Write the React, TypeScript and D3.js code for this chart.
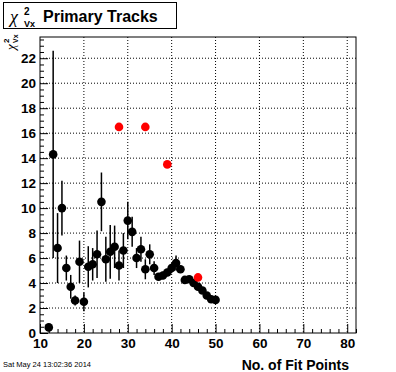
import React, { useEffect, useRef } from "react";
import { select, scaleLinear, axisBottom, axisLeft, range } from "d3";

// profile points (black) : no. of fit points vs chi2 of vertex x
const fitPoints = [12, 13, 14, 15, 16, 17, 18, 19, 20, 21, 22, 23, 24, 25, 26, 27, 28, 29, 30, 31,
  32, 33, 34, 35, 36, 37, 38, 39, 40, 41, 42, 43, 44, 45, 46, 47, 48, 49, 50];
const chi2Values = [0.45, 14.3, 6.8, 10.0, 5.2, 3.7, 2.6, 5.7, 2.5, 5.3, 5.5, 6.3, 10.5, 5.9, 6.5, 6.9, 5.4, 6.6, 9.0, 8.1,
  6.0, 6.7, 5.1, 6.3, 5.2, 4.5, 4.6, 4.85, 5.2, 5.6, 5.1, 4.25, 4.3, 4.0, 3.7, 3.4, 3.0, 2.7, 2.65];
const chi2Errors = [0.3, 8.3, 2.8, 2.2, 1.0, 0.95, 0.4, 1.7, 0.75, 1.65, 1.3, 1.9, 2.35, 1.8, 2.15, 1.7, 1.2, 1.4, 1.5, 1.2,
  0.8, 1.0, 0.8, 0.8, 0.55, 0.3, 0.3, 0.3, 0.4, 0.6, 0.3, 0.2, 0.2, 0.2, 0.2, 0.2, 0.2, 0.2, 0.2];

// second set (red)
const redFitPoints = [28, 34, 39, 46];
const redValues = [16.5, 16.5, 13.5, 4.45];

const xMajorTicks = [10, 20, 30, 40, 50, 60, 70, 80];
const yMajorTicks = [0, 2, 4, 6, 8, 10, 12, 14, 16, 18, 20, 22];

const FONT = "'Liberation Sans', Arial, Helvetica, sans-serif";
const GREEK = "'Liberation Serif', 'DejaVu Serif', serif";

function App() {
  const gRef = useRef();
  const width = 396;
  const height = 372;
  const frame = { left: 40, right: 356, top: 37, bottom: 333 };

  useEffect(() => {
    const g = select(gRef.current);
    g.selectAll("*").remove();

    const x = scaleLinear().domain([10, 82]).range([frame.left, frame.right]);
    const y = scaleLinear().domain([0, 23.7]).range([frame.bottom, frame.top]);

    // grid
    g.append("g")
      .selectAll("line")
      .data(xMajorTicks.slice(1))
      .join("line")
      .attr("x1", d => x(d)).attr("x2", d => x(d))
      .attr("y1", frame.top).attr("y2", frame.bottom)
      .attr("stroke", "#000").attr("stroke-dasharray", "1 2");
    g.append("g")
      .selectAll("line")
      .data(yMajorTicks.slice(1))
      .join("line")
      .attr("y1", d => y(d)).attr("y2", d => y(d))
      .attr("x1", frame.left).attr("x2", frame.right)
      .attr("stroke", "#000").attr("stroke-dasharray", "1 2");

    // frame
    g.append("rect")
      .attr("x", frame.left).attr("y", frame.top)
      .attr("width", frame.right - frame.left).attr("height", frame.bottom - frame.top)
      .attr("fill", "none").attr("stroke", "#000");

    // axes, ticks inside
    const xMinor = range(10, 82.1, 2).filter(v => v % 10 !== 0);
    g.append("g")
      .attr("transform", `translate(0,${frame.bottom})`)
      .call(axisBottom(x).tickValues(xMinor).tickSize(-4).tickFormat(() => ""))
      .call(a => a.select(".domain").remove());
    g.append("g")
      .attr("class", "x-axis")
      .attr("transform", `translate(0,${frame.bottom})`)
      .call(axisBottom(x).tickValues(xMajorTicks).tickSize(-9).tickPadding(5).tickFormat(d => `${d}`))
      .call(a => a.select(".domain").remove());

    const yMinor = range(0, 23.6, 0.5).filter(v => v % 2 !== 0);
    g.append("g")
      .attr("transform", `translate(${frame.left},0)`)
      .call(axisLeft(y).tickValues(yMinor).tickSize(-4).tickFormat(() => ""))
      .call(a => a.select(".domain").remove());
    g.append("g")
      .attr("class", "y-axis")
      .attr("transform", `translate(${frame.left},0)`)
      .call(axisLeft(y).tickValues(yMajorTicks).tickSize(-8).tickPadding(4).tickFormat(d => `${d}`))
      .call(a => a.select(".domain").remove());

    g.selectAll(".tick line").attr("stroke", "#000");
    g.selectAll(".x-axis text, .y-axis text")
      .attr("font-family", FONT).attr("font-weight", "bold").attr("font-size", 13.5).attr("fill", "#000");

    // error bars
    g.append("g")
      .selectAll("line")
      .data(fitPoints)
      .join("line")
      .attr("x1", d => x(d)).attr("x2", d => x(d))
      .attr("y1", (d, i) => y(chi2Values[i] - chi2Errors[i]))
      .attr("y2", (d, i) => y(chi2Values[i] + chi2Errors[i]))
      .attr("stroke", "#000").attr("stroke-width", 1.5);

    g.append("g")
      .selectAll("circle")
      .data(fitPoints)
      .join("circle")
      .attr("cx", d => x(d))
      .attr("cy", (d, i) => y(chi2Values[i]))
      .attr("r", 4.3)
      .attr("fill", "#000");

    g.append("g")
      .selectAll("circle")
      .data(redFitPoints)
      .join("circle")
      .attr("cx", d => x(d))
      .attr("cy", (d, i) => y(redValues[i]))
      .attr("r", 4.3)
      .attr("fill", "#ff0000");
  }, []);

  return (
    <div style={{ position: "absolute", left: 0, top: 0 }}>
      <svg width={width} height={height} style={{ display: "block", background: "#fff" }}>
        <g ref={gRef} />
        {/* title box */}
        <rect x={3.5} y={2.5} width={173} height={26} fill="#fff" stroke="#000" />
        <text x={10} y={23} fontFamily={GREEK} fontStyle="italic" fontSize={18}>χ</text>
        <text x={24} y={15} fontFamily={FONT} fontWeight="bold" fontSize={10}>2</text>
        <text x={24} y={27} fontFamily={FONT} fontWeight="bold" fontSize={9}>Vx</text>
        <text x={43} y={22} fontFamily={FONT} fontWeight="bold" fontSize={16}>Primary Tracks</text>
        {/* y title */}
        <g transform="translate(15,50) rotate(-90)">
          <text x={0} y={0} fontFamily={GREEK} fontStyle="italic" fontSize={13}>χ</text>
          <text x={7} y={-6} fontFamily={FONT} fontWeight="bold" fontSize={8}>2</text>
          <text x={7} y={3} fontFamily={FONT} fontWeight="bold" fontSize={7}>Vx</text>
        </g>
        {/* x title */}
        <text x={349} y={370} textAnchor="end" fontFamily={FONT} fontWeight="bold" fontSize={14}>No. of Fit Points</text>
        <text x={3} y={367} fontFamily={FONT} fontSize={7.5}>Sat May 24 13:02:36 2014</text>
      </svg>
    </div>
  );
}

export default App;
